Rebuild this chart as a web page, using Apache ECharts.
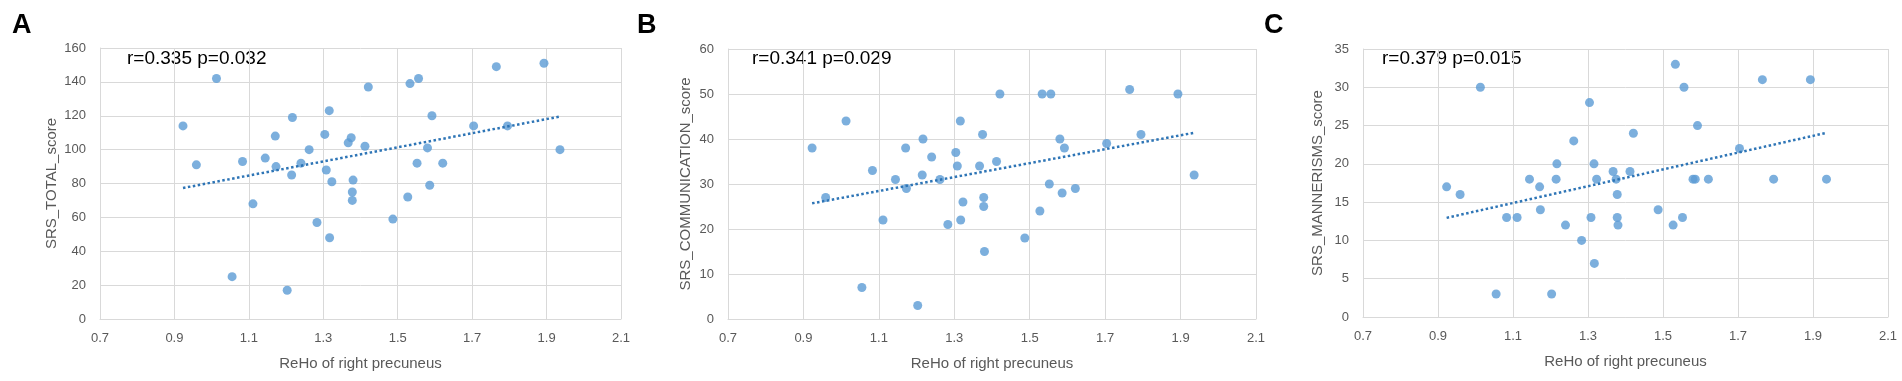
<!DOCTYPE html>
<html>
<head>
<meta charset="utf-8">
<script src="https://cdn.jsdelivr.net/npm/echarts@6/dist/echarts.min.js"></script>
<style>
  html, body { margin: 0; padding: 0; background: #fff; }
  #chart { width: 1902px; height: 381px; }
</style>
</head>
<body>
<div id="chart"></div>
<script>
// ReHo of right precuneus (same subjects in all three panels)
const reho = [0.923, 0.959, 1.013, 1.055, 1.083, 1.111, 1.144, 1.171, 1.173, 1.203,
  1.215, 1.217, 1.240, 1.262, 1.283, 1.304, 1.308, 1.316, 1.317, 1.323,
  1.367, 1.375, 1.378, 1.378, 1.380, 1.412, 1.421, 1.487, 1.527, 1.533,
  1.552, 1.556, 1.580, 1.586, 1.592, 1.621, 1.704, 1.765, 1.795, 1.893, 1.936];
const srsTotal = [114, 91, 142, 25, 93, 68, 95, 108, 90, 17,
  85, 119, 92, 100, 57, 109, 88, 123, 48, 81,
  104, 107, 75, 70, 82, 102, 137, 59, 72, 139,
  92, 142, 101, 79, 120, 92, 114, 149, 114, 151, 100];
const srsComm = [38, 27, 44, 7, 33, 22, 31, 38, 29, 3,
  32, 40, 36, 31, 21, 37, 34, 44, 22, 26,
  34, 41, 27, 25, 15, 35, 50, 18, 24, 50,
  30, 50, 40, 28, 38, 29, 39, 51, 41, 50, 32];
const srsMann = [17, 16, 30, 3, 13, 13, 18, 17, 14, 3,
  18, 20, 12, 23, 10, 28, 13, 20, 7, 18,
  19, 18, 16, 13, 12, 19, 24, 14, 12, 33,
  13, 30, 18, 18, 25, 18, 22, 31, 18, 31, 18];

const panelLetters = ['A', 'B', 'C'];
const statTexts = ['r=0.335 p=0.032', 'r=0.341 p=0.029', 'r=0.379 p=0.015'];
const yNames = ['SRS_TOTAL_score', 'SRS_COMMUNICATION_score', 'SRS_MANNERISMS_score'];
const yMax = [160, 60, 35];
const yStep = [20, 10, 5];
const xName = 'ReHo of right precuneus';

const panels = [
  { grid: { left: 100, top: 48, width: 521, height: 271 }, nameGap: 41, letterX: 12, statX: 127 },
  { grid: { left: 728, top: 49, width: 528, height: 270 }, nameGap: 35, letterX: 637, statX: 752 },
  { grid: { left: 1363, top: 49, width: 525, height: 268 }, nameGap: 38, letterX: 1264, statX: 1382 }
];
const ys = [srsTotal, srsComm, srsMann];

// least squares fit, like the Excel trendline
function fitLine(xs, vals) {
  const n = xs.length;
  let sx = 0, sy = 0, sxx = 0, sxy = 0;
  for (let i = 0; i < n; i++) {
    sx += xs[i]; sy += vals[i]; sxx += xs[i] * xs[i]; sxy += xs[i] * vals[i];
  }
  const b = (n * sxy - sx * sy) / (n * sxx - sx * sx);
  const a = (sy - b * sx) / n;
  const x0 = Math.min(...xs), x1 = Math.max(...xs);
  return [[x0, a + b * x0], [x1, a + b * x1]];
}

const font = 'Liberation Sans, Arial, sans-serif';
const gridColor = '#d9d9d9';
const labelColor = '#595959';

const option = {
  animation: false,
  backgroundColor: '#fff',
  grid: panels.map(p => p.grid),
  xAxis: panels.map((p, i) => ({
    gridIndex: i,
    type: 'value',
    min: 0.7,
    max: 2.1,
    interval: 0.2,
    name: xName,
    nameLocation: 'middle',
    nameGap: 37,
    nameTextStyle: { fontFamily: font, fontSize: 15, color: labelColor },
    axisLine: { show: true, lineStyle: { color: gridColor } },
    axisTick: { show: false },
    axisLabel: {
      margin: 13, fontFamily: font, fontSize: 13, color: labelColor,
      formatter: v => v.toFixed(1)
    },
    splitLine: { show: true, lineStyle: { color: gridColor } }
  })),
  yAxis: panels.map((p, i) => ({
    gridIndex: i,
    type: 'value',
    min: 0,
    max: yMax[i],
    interval: yStep[i],
    name: yNames[i],
    nameLocation: 'middle',
    nameGap: p.nameGap,
    nameTextStyle: { fontFamily: font, fontSize: 15, color: labelColor },
    axisLine: { show: true, lineStyle: { color: gridColor } },
    axisTick: { show: false },
    axisLabel: { margin: 14, fontFamily: font, fontSize: 13, color: labelColor },
    splitLine: { show: true, lineStyle: { color: gridColor } }
  })),
  series: [],
  graphic: []
};

panels.forEach((p, i) => {
  option.series.push({
    type: 'scatter',
    xAxisIndex: i,
    yAxisIndex: i,
    data: reho.map((x, k) => [x, ys[i][k]]),
    symbolSize: 9,
    itemStyle: { color: '#5b9bd5' },
    z: 2
  });
  option.series.push({
    type: 'line',
    xAxisIndex: i,
    yAxisIndex: i,
    data: fitLine(reho, ys[i]),
    showSymbol: false,
    lineStyle: { color: '#2e75b6', width: 2.5, type: [2.5, 2.5] },
    z: 3
  });
  option.graphic.push({
    type: 'text',
    left: p.letterX,
    top: 12,
    style: { text: panelLetters[i], font: 'bold 27px ' + font, fill: '#000' }
  });
  option.graphic.push({
    type: 'text',
    left: p.statX,
    top: 49,
    style: { text: statTexts[i], font: '19px ' + font, fill: '#000' }
  });
});

const chart = echarts.init(document.getElementById('chart'));
chart.setOption(option);
</script>
</body>
</html>
